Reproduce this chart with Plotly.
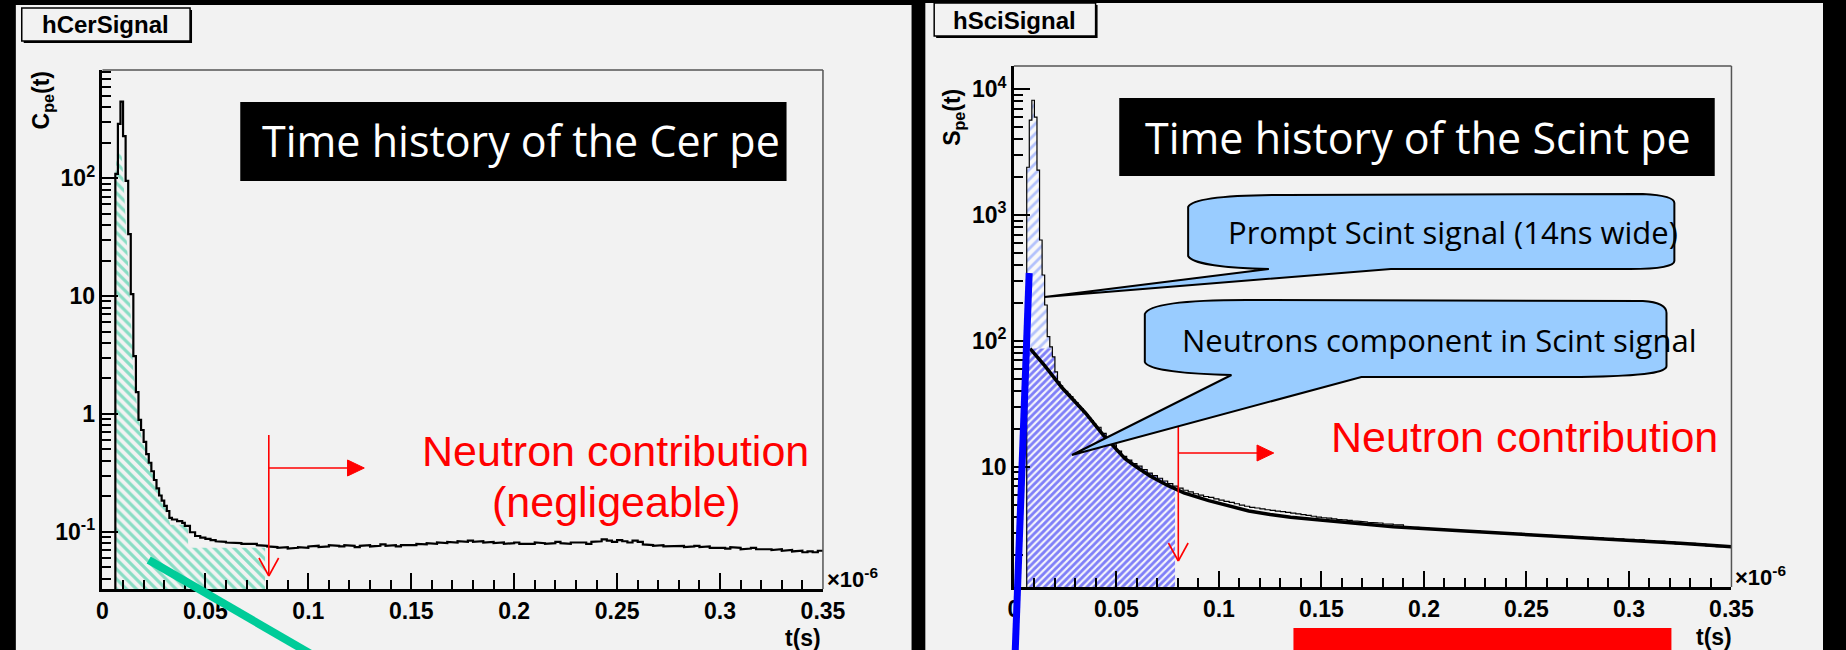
import numpy as np
import plotly.graph_objects as go

W, H = 1846, 650

# Time in units of 1e-6 s: 1.25 ns bins over the prompt peak, 2.5 ns bins over the tail.
BIN_FINE = 0.00125
BIN_COARSE = 0.0025
PEAK_START = 0.00625
TAIL_START = 0.04
T_MAX = 0.35
NEUTRON_CUT = 0.0786

# Cherenkov photoelectrons per bin
cer_peak = [109, 289, 447, 228, 95, 33.6, 10.4, 3.10, 1.53, 0.89, 0.73, 0.58, 0.455, 0.385,
            0.326, 0.275, 0.233, 0.203, 0.184, 0.166, 0.150, 0.131, 0.127, 0.127, 0.123, 0.123, 0.119]
cer_tail = [0.112, 0.099, 0.092, 0.089, 0.087, 0.085, 0.083, 0.082, 0.081, 0.080,
            0.080, 0.079, 0.078, 0.079, 0.077, 0.076, 0.075, 0.074, 0.073, 0.074,
            0.072, 0.073, 0.074, 0.073, 0.075, 0.076, 0.074, 0.075, 0.077, 0.076,
            0.075, 0.077, 0.076, 0.074, 0.076, 0.077, 0.075, 0.076, 0.078, 0.076,
            0.077, 0.075, 0.077, 0.078, 0.077, 0.079, 0.078, 0.080, 0.079, 0.081,
            0.080, 0.082, 0.081, 0.083, 0.082, 0.084, 0.082, 0.083, 0.081, 0.082,
            0.080, 0.081, 0.079, 0.080, 0.081, 0.079, 0.080, 0.079, 0.081, 0.080,
            0.079, 0.080, 0.082, 0.080, 0.079, 0.081, 0.080, 0.081, 0.079, 0.082,
            0.083, 0.086, 0.084, 0.082, 0.085, 0.083, 0.081, 0.084, 0.082, 0.078,
            0.077, 0.076, 0.077, 0.075, 0.076, 0.075, 0.076, 0.074, 0.075, 0.076,
            0.074, 0.075, 0.073, 0.074, 0.073, 0.072, 0.074, 0.073, 0.071, 0.072,
            0.073, 0.071, 0.072, 0.071, 0.070, 0.071, 0.069, 0.070, 0.068, 0.069,
            0.067, 0.068, 0.067, 0.069]

# Scintillation photoelectrons per bin
sci_peak = [2400, 5680, 8180, 6000, 2280, 634, 334, 193, 108, 89.6, 74.6, 56.7, 47.3, 44.0,
            40.9, 39.8, 37.6, 36.1, 33.8, 32.4, 30.2, 29.0, 27.1, 26.0, 24.3, 23.3, 21.8]
sci_tail = [20.6, 18.4, 16.9, 14.9, 13.3, 12.1, 11.3, 10.6, 10.1, 9.5,
            8.9, 8.5, 8.1, 7.7, 7.35, 7.0, 6.75, 6.5, 6.3, 6.1,
            5.95, 5.8, 5.7, 5.55, 5.42, 5.3, 5.2, 5.08, 4.95, 4.85,
            4.76, 4.70, 4.62, 4.55, 4.50, 4.44, 4.40, 4.33, 4.28, 4.22,
            4.16, 4.10, 4.04, 3.98, 3.93, 3.90, 3.85, 3.80, 3.78, 3.74,
            3.70, 3.69, 3.64, 3.62, 3.58, 3.57, 3.52, 3.50, 3.47, 3.45,
            3.33, 3.27, 3.29, 3.22, 3.25, 3.19, 3.20, 3.15, 3.17, 3.12,
            3.13, 3.08, 3.10, 3.04, 3.07, 3.01, 3.03, 2.98, 3.00, 2.94,
            2.96, 2.91, 2.95, 2.88, 2.90, 2.86, 2.88, 2.83, 2.85, 2.80,
            2.82, 2.78, 2.80, 2.75, 2.77, 2.72, 2.74, 2.70, 2.72, 2.67,
            2.69, 2.64, 2.67, 2.62, 2.65, 2.58, 2.62, 2.55, 2.58, 2.54,
            2.56, 2.47, 2.52, 2.44, 2.49, 2.41, 2.46, 2.38, 2.43, 2.35,
            2.39, 2.32, 2.36, 2.30]

# Neutron component of the scintillation signal
neutron_t = [0.0079, 0.0150, 0.0235, 0.0300, 0.0350, 0.0436, 0.0508, 0.0542, 0.0600, 0.0666,
             0.0750, 0.0829, 0.0950, 0.1050, 0.1146, 0.1250, 0.1350, 0.1467, 0.1650, 0.1850,
             0.2200, 0.2507, 0.2750, 0.2987, 0.3250, 0.3466, 0.3500]
neutron_pe = [87.0, 63.5, 42.4, 33.0, 26.6, 17.8, 13.2, 11.6, 9.9, 8.4,
              7.1, 6.2, 5.37, 4.84, 4.45, 4.17, 3.96, 3.80, 3.57, 3.34,
              3.08, 2.88, 2.76, 2.63, 2.47, 2.33, 2.31]

# Outline of the hatched Cherenkov area
cer_hatch_t = [0.0062, 0.0072, 0.0091, 0.0101, 0.0117, 0.0134, 0.0150, 0.0167, 0.0191, 0.0249,
               0.0306, 0.0330, 0.0416, 0.0416, 0.0790]
cer_hatch_pe = [106, 173, 173, 106, 34.9, 9.1, 2.36, 1.22, 0.614, 0.316,
                0.158, 0.1146, 0.1146, 0.0731, 0.0731]

CER_YRANGE = [-1.486, 2.919]
SCI_YRANGE = [0.044, 4.185]
cer_yticks = [0.1, 1, 10, 100]
cer_yticktext = ["10<sup>-1</sup>", "1", "10", "10<sup>2</sup>"]
sci_yticks = [10, 100, 1000, 10000]
sci_yticktext = ["10", "10<sup>2</sup>", "10<sup>3</sup>", "10<sup>4</sup>"]

SANS = "Liberation Sans, Arial, sans-serif"
COMIC = "Comic Sans MS, Open Sans, sans-serif"
PANEL = "#f2f2f2"


def px(x):
    return x / W


def py(y):
    return 1 - y / H


def hist(peak, tail):
    pe = PEAK_START + BIN_FINE * np.arange(len(peak) + 1)
    te = TAIL_START + BIN_COARSE * np.arange(len(tail) + 1)
    return np.concatenate([pe, te[1:]]), np.asarray(peak + tail, float)


def step_outline(edges, vals, floor):
    x = np.repeat(edges, 2)
    y = np.concatenate([[floor], np.repeat(vals, 2), [floor]])
    return x, y


def window(edges, vals, t_end, cap=np.inf):
    k = np.searchsorted(edges, t_end)
    return np.append(edges[:k], t_end), np.minimum(vals[:k], cap)


cer_edges, cer_vals = hist(cer_peak, cer_tail)
sci_edges, sci_vals = hist(sci_peak, sci_tail)
cer_floor = 10 ** (CER_YRANGE[0] - 1)
sci_floor = 10 ** (SCI_YRANGE[0] - 1)

fig = go.Figure()

# ---- Cherenkov panel ----
hx = [cer_hatch_t[0]] + cer_hatch_t + [cer_hatch_t[-1]]
hy = [cer_floor] + cer_hatch_pe + [cer_floor]
fig.add_trace(go.Scatter(
    x=hx, y=hy, mode="lines", line=dict(width=0), fill="toself",
    fillpattern=dict(shape="\\", fgcolor="rgb(30,200,150)", bgcolor="rgba(0,0,0,0)",
                     size=7, solidity=0.45),
    hoverinfo="skip", showlegend=False, xaxis="x", yaxis="y"))
cx, cy = step_outline(cer_edges, cer_vals, cer_floor)
fig.add_trace(go.Scatter(
    x=cx[:-1], y=cy[:-1], mode="lines", line=dict(color="black", width=2.2),
    hoverinfo="skip", showlegend=False, xaxis="x", yaxis="y"))

# ---- Scintillation panel ----
pe_, pv_ = window(sci_edges, sci_vals, TAIL_START)
fx, fy = step_outline(pe_, pv_, sci_floor)
fig.add_trace(go.Scatter(
    x=fx, y=fy, mode="lines", line=dict(width=0), fill="toself",
    fillpattern=dict(shape="/", fgcolor="rgb(110,140,255)", bgcolor="rgba(255,255,255,0.5)",
                     size=7, solidity=0.4),
    hoverinfo="skip", showlegend=False, xaxis="x2", yaxis="y2"))
ne_, nv_ = window(sci_edges, sci_vals, NEUTRON_CUT, cap=neutron_pe[0])
nx, ny = step_outline(ne_, nv_, sci_floor)
fig.add_trace(go.Scatter(
    x=nx, y=ny, mode="lines", line=dict(width=0), fill="toself",
    fillpattern=dict(shape="/", fgcolor="rgb(10,10,245)", bgcolor="#f5f5fb",
                     size=5, solidity=0.58),
    hoverinfo="skip", showlegend=False, xaxis="x2", yaxis="y2"))
sx, sy = step_outline(sci_edges, sci_vals, sci_floor)
fig.add_trace(go.Scatter(
    x=sx[:-1], y=sy[:-1], mode="lines", line=dict(color="black", width=1.2),
    hoverinfo="skip", showlegend=False, xaxis="x2", yaxis="y2"))
fig.add_trace(go.Scatter(
    x=neutron_t, y=neutron_pe, mode="lines", line=dict(color="black", width=3.5),
    hoverinfo="skip", showlegend=False, xaxis="x2", yaxis="y2"))

TICKFONT = dict(family=SANS, size=23, color="black", weight="bold")


def x_axis(x0, x1, anchor):
    return dict(
        domain=[px(x0), px(x1)], anchor=anchor, range=[0, T_MAX],
        tickmode="linear", tick0=0, dtick=0.05,
        ticks="inside", ticklen=16, tickwidth=1.5, tickcolor="black",
        minor=dict(tickmode="linear", tick0=0, dtick=0.01, ticks="inside",
                   ticklen=9, tickwidth=1.5, tickcolor="black", showgrid=False),
        showgrid=False, zeroline=False, showline=True, linecolor="black", linewidth=2.5,
        tickfont=TICKFONT, fixedrange=True)


def y_axis(y0, y1, anchor, rng, vals, text):
    lo, hi = int(np.floor(rng[0])), int(np.ceil(rng[1]))
    minor = [m * 10.0 ** d for d in range(lo, hi) for m in range(2, 10)]
    return dict(
        domain=[py(y1), py(y0)], anchor=anchor, type="log", range=rng,
        tickmode="array", tickvals=vals, ticktext=text,
        ticks="inside", ticklen=16, tickwidth=1.5, tickcolor="black",
        minor=dict(tickmode="array", tickvals=minor, ticks="inside",
                   ticklen=9, tickwidth=1.5, tickcolor="black", showgrid=False),
        showgrid=False, zeroline=False, showline=True, linecolor="black", linewidth=2.5,
        tickfont=TICKFONT, fixedrange=True)


shapes = []


def rect(x0, y0, x1, y1, fill, line_color=None, lw=0, layer="above"):
    shapes.append(dict(type="rect", xref="paper", yref="paper",
                       x0=px(x0), x1=px(x1), y0=py(y1), y1=py(y0),
                       fillcolor=fill, layer=layer,
                       line=dict(color=line_color or fill, width=lw)))


def seg(x0, y0, x1, y1, color, width):
    shapes.append(dict(type="line", xref="paper", yref="paper",
                       x0=px(x0), y0=py(y0), x1=px(x1), y1=py(y1),
                       line=dict(color=color, width=width)))


def path(cmds, fill, line_color, lw):
    parts = []
    for c, pts in cmds:
        parts.append(c + " " + " ".join(f"{px(a):.5f},{py(b):.5f}" for a, b in pts))
    shapes.append(dict(type="path", xref="paper", yref="paper",
                       path=" ".join(parts) + " Z", fillcolor=fill,
                       line=dict(color=line_color, width=lw)))


# panel backgrounds
rect(10, 5, 920, 650, PANEL, layer="below")
rect(934, 3, 1846, 650, PANEL, layer="below")

# frame top / right edges
seg(98, 70, 830, 70, "#555555", 1.5)
seg(830, 70, 830, 589, "#555555", 1.5)
seg(1024, 66, 1753, 66, "#555555", 1.5)
seg(1753, 66, 1753, 587, "#555555", 1.5)

# histogram name boxes with drop shadow
rect(18, 10, 189, 43, "black")
rect(16, 8, 187, 41, PANEL, "black", 1.5)
rect(945, 5, 1109, 38, "black")
rect(943, 3, 1107, 36, PANEL, "black", 1.5)

# title boxes
rect(238, 102, 793, 181, "black")
rect(1131, 98, 1736, 176, "black")

# red 0.08 markers and arrows
RED = "#ff0000"
for xv, ytop, ybot, yh, xh in [(267, 435, 576, 468, 350), (1191, 427, 561, 453, 1274)]:
    seg(xv, ytop, xv, ybot, RED, 1.6)
    seg(xv - 10, ybot - 18, xv, ybot, RED, 1.6)
    seg(xv, ybot, xv + 10, ybot - 18, RED, 1.6)
    seg(xv, yh, xh, yh, RED, 1.6)
    path([("M", [(xh - 3, yh - 8)]), ("L", [(xh + 14, yh)]), ("L", [(xh - 3, yh + 8)])],
         RED, RED, 1)

# callout bubbles
BUB = "#99ccff"
path([("M", [(1201, 207)]), ("C", [(1205, 199), (1240, 195), (1300, 195)]),
      ("L", [(1663, 194)]), ("C", [(1683, 195), (1695, 198), (1695, 203)]),
      ("L", [(1695, 261)]), ("C", [(1695, 266), (1680, 269), (1650, 269)]),
      ("L", [(1407, 269)]), ("L", [(1055, 297)]), ("L", [(1283, 269)]),
      ("C", [(1240, 268), (1205, 264), (1201, 256)])], BUB, "black", 2)
path([("M", [(1157, 314)]), ("C", [(1160, 306), (1185, 300), (1260, 300)]),
      ("L", [(1663, 301)]), ("C", [(1680, 302), (1687, 306), (1687, 313)]),
      ("L", [(1687, 366)]), ("C", [(1687, 372), (1670, 376), (1600, 377)]),
      ("L", [(1377, 377)]), ("L", [(1083, 455)]), ("L", [(1245, 375)]),
      ("C", [(1200, 374), (1160, 370), (1157, 362)])], BUB, "black", 2)

# pointer strokes
seg(145, 560, 322, 661, "rgb(0,204,153)", 8)
seg(1039.5, 273, 1025, 660, "#0000ff", 7)

# red box at the bottom edge
rect(1308, 628, 1692, 660, RED)

annotations = []


def ann(text, x, y, size, color="black", family=SANS, weight="normal",
        xanchor="center", yanchor="middle", angle=0):
    annotations.append(dict(text=text, x=px(x), y=py(y), xref="paper", yref="paper",
                            xanchor=xanchor, yanchor=yanchor, showarrow=False,
                            textangle=angle,
                            font=dict(family=family, size=size, color=color, weight=weight)))


ann("hCerSignal", 101.5, 25, 24, weight="bold")
ann("hSciSignal", 1025, 20, 24, weight="bold")
ann("Time history of the Cer pe", 523, 141, 43, color="white", family=COMIC)
ann("Time history of the Scint pe", 1435, 137, 43, color="white", family=COMIC)
ann("Prompt Scint signal (14ns wide)", 1470, 232, 31, family=COMIC)
ann("Neutrons component in Scint signal", 1456, 340, 31, family=COMIC)
ann("Neutron contribution", 619, 451, 43, color=RED)
ann("(negligeable)", 620, 502, 43, color=RED)
ann("Neutron contribution", 1543, 437, 43, color=RED)
ann("C<sub>pe</sub>(t)", 37, 100, 23, weight="bold", angle=-90)
ann("S<sub>pe</sub>(t)", 963, 117, 23, weight="bold", angle=-90)
ann("×10<sup>-6</sup>", 832, 594, 22, weight="bold", xanchor="left", yanchor="bottom")
ann("×10<sup>-6</sup>", 1755, 592, 22, weight="bold", xanchor="left", yanchor="bottom")
ann("t(s)", 810, 623, 23, weight="bold", yanchor="top")
ann("t(s)", 1735, 622, 23, weight="bold", yanchor="top")

fig.update_layout(
    width=W, height=H, autosize=False,
    margin=dict(l=0, r=0, t=0, b=0, pad=0),
    paper_bgcolor="black", plot_bgcolor=PANEL,
    showlegend=False,
    xaxis=x_axis(98, 830, "y"),
    yaxis=y_axis(70, 589, "x", CER_YRANGE, cer_yticks, cer_yticktext),
    xaxis2=x_axis(1024, 1753, "y2"),
    yaxis2=y_axis(66, 587, "x2", SCI_YRANGE, sci_yticks, sci_yticktext),
    shapes=shapes, annotations=annotations,
)

fig.write_html("out.html", config=dict(displayModeBar=False))
